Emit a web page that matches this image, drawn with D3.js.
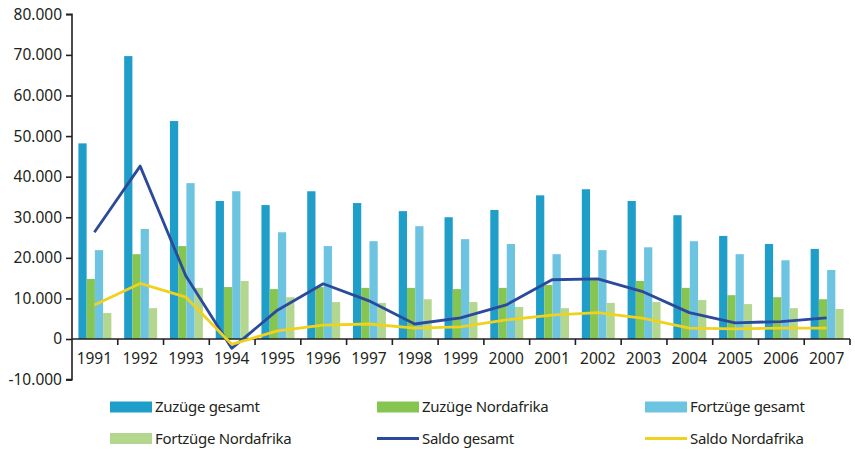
<!DOCTYPE html>
<html>
<head>
<meta charset="utf-8">
<script src="https://cdn.jsdelivr.net/npm/d3@7"></script>
<style>
  html, body { margin: 0; padding: 0; background: #fff; }
  svg { display: block; }
  text { font-family: "Noto Sans", "DejaVu Sans", sans-serif; fill: #231f20; }
</style>
</head>
<body>
<svg id="chart" width="855" height="449"></svg>
<script>
const years = ["1991","1992","1993","1994","1995","1996","1997","1998","1999","2000","2001","2002","2003","2004","2005","2006","2007"];
const zuzuegeGesamt   = [48200, 69700, 53700, 34000, 33000, 36400, 33500, 31500, 30000, 31800, 35400, 36900, 34000, 30500, 25400, 23400, 22200];
const zuzuegeNord     = [14800, 20900, 22900, 12800, 12300, 12800, 12600, 12600, 12300, 12600, 13300, 14500, 14300, 12600, 10800, 10300, 9800];
const fortzuegeGesamt = [21900, 27100, 38400, 36400, 26300, 22900, 24100, 27800, 24600, 23400, 20900, 21900, 22600, 24100, 20900, 19400, 17000];
const fortzuegeNord   = [6400, 7600, 12600, 14300, 10300, 9100, 8900, 9800, 9100, 7900, 7600, 8900, 9100, 9600, 8600, 7600, 7400];
const saldoGesamt     = [26300, 42600, 15500, -2300, 7100, 13600, 9400, 3700, 5200, 8400, 14600, 14800, 11600, 6500, 4000, 4300, 5200];
const saldoNord       = [8400, 13700, 10300, -1300, 2000, 3400, 3700, 2700, 3000, 4700, 5900, 6500, 5100, 2700, 2500, 2700, 2700];
const yTicks = [-10000, 0, 10000, 20000, 30000, 40000, 50000, 60000, 70000, 80000];

const barSeries = [
  { name: "Zuzüge gesamt", values: zuzuegeGesamt, color: "#1f9ec9" },
  { name: "Zuzüge Nordafrika", values: zuzuegeNord, color: "#87c552" },
  { name: "Fortzüge gesamt", values: fortzuegeGesamt, color: "#6dc4e1" },
  { name: "Fortzüge Nordafrika", values: fortzuegeNord, color: "#b4d78f" }
];
const lineSeries = [
  { name: "Saldo gesamt", values: saldoGesamt, color: "#2b4a9c" },
  { name: "Saldo Nordafrika", values: saldoNord, color: "#f0d21e" }
];

const svg = d3.select("#chart");
const mLeft = 72, mRight = 850, mTop = 14.3, mBottom = 379.6;

const x = d3.scaleBand().domain(years).range([mLeft, mRight]).paddingInner(0.28).paddingOuter(0.14);
const xs = d3.scaleBand().domain(d3.range(barSeries.length)).range([0, x.bandwidth()]);
const y = d3.scaleLinear().domain([-10000, 80000]).range([mBottom, mTop]);
const fmt = d3.format(",");
const deFmt = v => (v < 0 ? "-" : "") + fmt(Math.abs(v)).replace(/,/g, ".");

// bars
barSeries.forEach((s, si) => {
  svg.append("g").selectAll("rect").data(s.values).join("rect")
    .attr("x", (d, i) => x(years[i]) + xs(si))
    .attr("width", xs.bandwidth())
    .attr("y", d => y(Math.max(0, d)))
    .attr("height", d => Math.abs(y(d) - y(0)))
    .attr("fill", s.color);
});

// y axis
const yAxis = d3.axisLeft(y).tickValues(yTicks).tickSize(6).tickPadding(4).tickFormat(deFmt);
const gy = svg.append("g").attr("transform", `translate(${mLeft},0)`).call(yAxis);
gy.select(".domain").attr("stroke", "#231f20").attr("stroke-width", 1.6).attr("d", `M-6,${y(80000)}H0V${y(-10000)}H-6`);
gy.selectAll(".tick line").attr("stroke", "#231f20").attr("stroke-width", 1.6);
gy.selectAll(".tick text").attr("font-size", 15.5).attr("font-family", "Noto Sans").attr("fill", "#231f20");

// x axis at zero
const step = x.step();
const bounds = d3.range(years.length + 1).map(i => mLeft + i * step);
const gx = svg.append("g");
gx.append("line").attr("x1", mLeft).attr("x2", mRight).attr("y1", y(0)).attr("y2", y(0))
  .attr("stroke", "#231f20").attr("stroke-width", 1.6);
gx.selectAll("line.t").data(bounds.slice(1)).join("line").attr("class", "t")
  .attr("x1", d => d).attr("x2", d => d).attr("y1", y(0)).attr("y2", y(0) + 6)
  .attr("stroke", "#231f20").attr("stroke-width", 1.6);
gx.selectAll("text").data(years).join("text")
  .attr("x", d => x(d) + x.bandwidth() / 2 - 0.5)
  .attr("y", y(0) + 25)
  .attr("text-anchor", "middle")
  .attr("font-size", 15.5)
  .text(d => d);

// lines
const cx = i => x(years[i]) + x.bandwidth() / 2 - 0.5;
lineSeries.forEach(s => {
  const line = d3.line().x((d, i) => cx(i)).y(d => y(d));
  svg.append("path").datum(s.values).attr("d", line)
    .attr("fill", "none").attr("stroke", s.color).attr("stroke-width", 2.8)
    .attr("stroke-linejoin", "round");
});

// legend
const legendItems = [
  { s: barSeries[0], type: "rect", col: 0, row: 0 },
  { s: barSeries[1], type: "rect", col: 1, row: 0 },
  { s: barSeries[2], type: "rect", col: 2, row: 0 },
  { s: barSeries[3], type: "rect", col: 0, row: 1 },
  { s: lineSeries[0], type: "line", col: 1, row: 1 },
  { s: lineSeries[1], type: "line", col: 2, row: 1 }
];
const colX = [110, 377, 645];
const rowY = [407, 438.5];
const lg = svg.append("g");
legendItems.forEach(it => {
  const lx = colX[it.col], ly = rowY[it.row];
  if (it.type === "rect") {
    lg.append("rect").attr("x", lx).attr("y", ly - 5.5).attr("width", 42).attr("height", 11).attr("fill", it.s.color);
  } else {
    lg.append("line").attr("x1", lx).attr("x2", lx + 42).attr("y1", ly).attr("y2", ly)
      .attr("stroke", it.s.color).attr("stroke-width", 2.8);
  }
  lg.append("text").attr("x", lx + 45).attr("y", ly).attr("dy", "0.35em")
    .attr("font-size", 15).attr("letter-spacing", -0.3).text(it.s.name);
});
</script>
</body>
</html>
